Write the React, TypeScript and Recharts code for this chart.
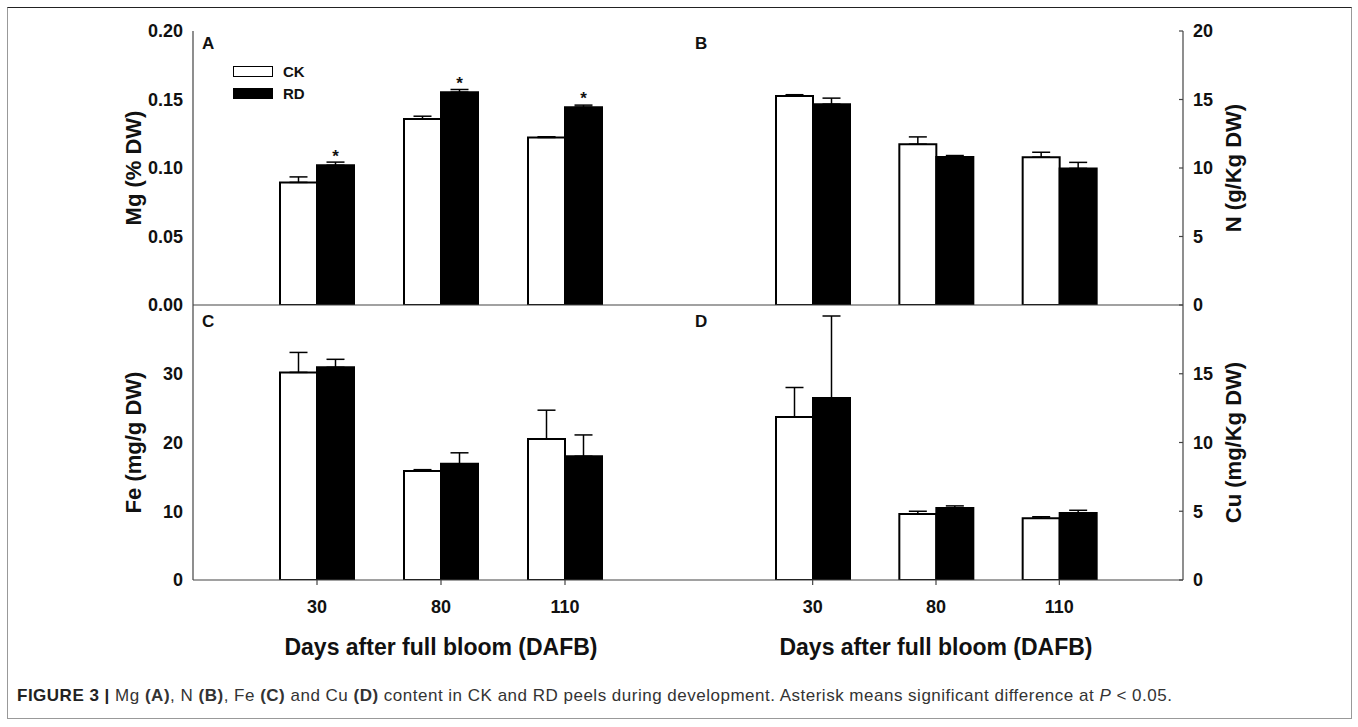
import { Bar, BarChart, ErrorBar, LabelList, Legend, XAxis, YAxis } from "recharts";

const FONT = '"Liberation Sans", Arial, Helvetica, sans-serif';
const AXIS = "#444";
const INK = "#111";

// categories
const days = ["30", "80", "110"];
const seriesNames = ["CK", "RD"];
const seriesFills = ["#ffffff", "#000000"];

// Mg (% DW)
const mgCK = [0.0895, 0.1358, 0.1223];
const mgCKErr = [0.004, 0.002, 0.0005];
const mgRD = [0.102, 0.1553, 0.1444];
const mgRDErr = [0.0023, 0.002, 0.0015];
const mgSig = [true, true, true];

// N (g/Kg DW)
const nCK = [15.25, 11.74, 10.79];
const nCKErr = [0.1, 0.53, 0.36];
const nRD = [14.66, 10.81, 9.97];
const nRDErr = [0.44, 0.1, 0.44];

// Fe (mg/g DW)
const feCK = [30.2, 15.85, 20.5];
const feCKErr = [2.9, 0.2, 4.2];
const feRD = [30.94, 16.9, 18.0];
const feRDErr = [1.16, 1.6, 3.1];

// Cu (mg/Kg DW)
const cuCK = [11.85, 4.8, 4.5];
const cuCKErr = [2.15, 0.2, 0.1];
const cuRD = [13.24, 5.24, 4.87];
const cuRDErr = [5.96, 0.15, 0.2];

// axis ticks
const mgTicks = [0, 0.05, 0.1, 0.15, 0.2];
const nTicks = [0, 5, 10, 15, 20];
const feTicks = [0, 10, 20, 30];
const cuTicks = [0, 5, 10, 15];

type Row = { day: string; ck: number; rd: number; ckErr: number[]; rdErr: number[]; sig: boolean };

function rows(ck: number[], ckErr: number[], rd: number[], rdErr: number[], sig?: boolean[]): Row[] {
  return days.map((d, i) => ({
    day: d,
    ck: ck[i],
    rd: rd[i],
    ckErr: [0, ckErr[i]],
    rdErr: [0, rdErr[i]],
    sig: sig ? sig[i] : false,
  }));
}

function Star(props: any) {
  const { x, y, width, value } = props;
  if (!value) return null;
  return (
    <text x={x + width / 2} y={y - 3} textAnchor="middle" fontSize={17} fontWeight={700} fill={INK} fontFamily={FONT}>
      *
    </text>
  );
}

function LegendBox() {
  return (
    <div style={{ fontFamily: FONT, fontWeight: 700, fontSize: 15, color: INK }}>
      {seriesNames.map((n, i) => (
        <div key={n} style={{ display: "flex", alignItems: "center", height: 22 }}>
          <span
            style={{
              display: "inline-block",
              width: 40,
              height: 11,
              border: "1.5px solid #000",
              boxSizing: "border-box",
              background: seriesFills[i],
              marginRight: 10,
            }}
          />
          <span>{n}</span>
        </div>
      ))}
    </div>
  );
}

type PanelProps = {
  left: number;
  top: number;
  width: number;
  height: number;
  margin: { top: number; right: number; bottom: number; left: number };
  data: Row[];
  side: "left" | "right";
  axisWidth: number;
  domain: [number, number];
  ticks: number[];
  digits: number;
  title: string;
  titleOffset: number;
  xHeight: number;
  showX: boolean;
  stars?: boolean;
  legend?: boolean;
};

function Panel(p: PanelProps) {
  const tickStyle = { fontSize: 18, fontWeight: 700, fill: INK, fontFamily: FONT };
  return (
    <div style={{ position: "absolute", left: p.left, top: p.top }}>
      <BarChart width={p.width} height={p.height} data={p.data} margin={p.margin} barGap={0} barSize={37}>
        <XAxis
          dataKey="day"
          interval={0}
          padding={{ left: 62, right: 62 }}
          height={p.xHeight}
          axisLine={{ stroke: AXIS, strokeWidth: 1.2 }}
          tickLine={p.showX ? { stroke: AXIS, strokeWidth: 1.2 } : false}
          tick={p.showX ? tickStyle : false}
          tickSize={5}
          tickMargin={15}
          label={
            p.showX
              ? {
                  value: "Days after full bloom (DAFB)",
                  position: "insideBottom",
                  offset: 0,
                  style: { fontSize: 23, fontWeight: 700, fill: INK, fontFamily: FONT },
                }
              : undefined
          }
        />
        <XAxis
          xAxisId="t"
          dataKey="day"
          orientation="top"
          height={0}
          padding={{ left: 62, right: 62 }}
          tick={false}
          tickLine={false}
          axisLine={{ stroke: AXIS, strokeWidth: 1.2 }}
        />
        <YAxis
          type="number"
          orientation={p.side}
          width={p.axisWidth}
          domain={p.domain}
          ticks={p.ticks}
          interval={0}
          allowDataOverflow
          tickFormatter={(v: number) => v.toFixed(p.digits)}
          tickLine={p.side === "right" ? { stroke: AXIS, strokeWidth: 1.2 } : false}
          tickSize={p.side === "right" ? -4 : 0}
          tickMargin={p.side === "right" ? 14 : 10}
          axisLine={{ stroke: AXIS, strokeWidth: 1.2 }}
          tick={tickStyle}
          label={{
            value: p.title,
            angle: -90,
            position: p.side === "left" ? "insideLeft" : "insideRight",
            offset: p.titleOffset,
            style: { textAnchor: "middle", fontSize: 22, fontWeight: 700, fill: INK, fontFamily: FONT },
          }}
        />
        <YAxis
          yAxisId="f"
          type="number"
          orientation={p.side === "left" ? "right" : "left"}
          width={0}
          domain={p.domain}
          tick={false}
          tickLine={false}
          axisLine={{ stroke: AXIS, strokeWidth: 1.2 }}
        />
        <Bar dataKey="ck" name={seriesNames[0]} fill={seriesFills[0]} stroke="#000" strokeWidth={2} isAnimationActive={false}>
          <ErrorBar dataKey="ckErr" width={9} stroke="#000" strokeWidth={1.5} direction="y" />
        </Bar>
        <Bar dataKey="rd" name={seriesNames[1]} fill={seriesFills[1]} stroke="#000" strokeWidth={2} isAnimationActive={false}>
          <ErrorBar dataKey="rdErr" width={9} stroke="#000" strokeWidth={1.5} direction="y" />
          {p.stars ? <LabelList dataKey="sig" content={Star} /> : null}
        </Bar>
        {p.legend ? (
          <Legend
            layout="horizontal"
            verticalAlign="middle"
            align="center"
            content={LegendBox}
            wrapperStyle={{ position: "absolute", left: 233, top: 60, width: 120, height: 44 }}
          />
        ) : null}
      </BarChart>
    </div>
  );
}

function Letter({ x, y, t }: { x: number; y: number; t: string }) {
  return (
    <div
      style={{
        position: "absolute",
        left: x,
        top: y,
        fontFamily: FONT,
        fontWeight: 700,
        fontSize: 17,
        lineHeight: "17px",
        color: INK,
      }}
    >
      {t}
    </div>
  );
}

export default function App() {
  return (
    <div style={{ position: "absolute", left: 0, top: 0, width: 1358, height: 727, background: "#fff", overflow: "hidden" }}>
      <div
        style={{
          position: "absolute",
          left: 7,
          top: 7,
          width: 1345,
          height: 712,
          boxSizing: "border-box",
          border: "1.5px solid #999",
          borderTop: "1.5px solid #222",
        }}
      />
      <Panel
        left={0}
        top={0}
        width={690}
        height={318}
        margin={{ top: 31, right: 1, bottom: 8, left: 0 }}
        data={rows(mgCK, mgCKErr, mgRD, mgRDErr, mgSig)}
        side="left"
        axisWidth={193}
        domain={[0, 0.2]}
        ticks={mgTicks}
        digits={2}
        title="Mg (% DW)"
        titleOffset={133}
        xHeight={5}
        showX={false}
        stars
        legend
      />
      <Panel
        left={688}
        top={0}
        width={585}
        height={318}
        margin={{ top: 31, right: 0, bottom: 8, left: 1 }}
        data={rows(nCK, nCKErr, nRD, nRDErr)}
        side="right"
        axisWidth={90}
        domain={[0, 20]}
        ticks={nTicks}
        digits={0}
        title="N (g/Kg DW)"
        titleOffset={40}
        xHeight={5}
        showX={false}
      />
      <Panel
        left={0}
        top={300}
        width={690}
        height={365}
        margin={{ top: 5, right: 1, bottom: 10, left: 0 }}
        data={rows(feCK, feCKErr, feRD, feRDErr)}
        side="left"
        axisWidth={193}
        domain={[0, 40]}
        ticks={feTicks}
        digits={0}
        title="Fe (mg/g DW)"
        titleOffset={133}
        xHeight={75}
        showX
      />
      <Panel
        left={688}
        top={300}
        width={585}
        height={365}
        margin={{ top: 5, right: 0, bottom: 10, left: 1 }}
        data={rows(cuCK, cuCKErr, cuRD, cuRDErr)}
        side="right"
        axisWidth={90}
        domain={[0, 20]}
        ticks={cuTicks}
        digits={0}
        title="Cu (mg/Kg DW)"
        titleOffset={40}
        xHeight={75}
        showX
      />
      <Letter x={202} y={35} t="A" />
      <Letter x={695} y={35} t="B" />
      <Letter x={202} y={313} t="C" />
      <Letter x={695} y={313} t="D" />
      <div
        style={{
          position: "absolute",
          left: 17,
          top: 686,
          fontFamily: FONT,
          fontSize: 17,
          letterSpacing: 0.5,
          lineHeight: "20px",
          color: "#333",
          whiteSpace: "nowrap",
        }}
      >
        <b style={{ color: "#222" }}>FIGURE 3 |</b> Mg <b>(A)</b>, N <b>(B)</b>, Fe <b>(C)</b> and Cu <b>(D)</b> content in CK
        and RD peels during development. Asterisk means significant difference at <i>P</i> &lt; 0.05.
      </div>
    </div>
  );
}
